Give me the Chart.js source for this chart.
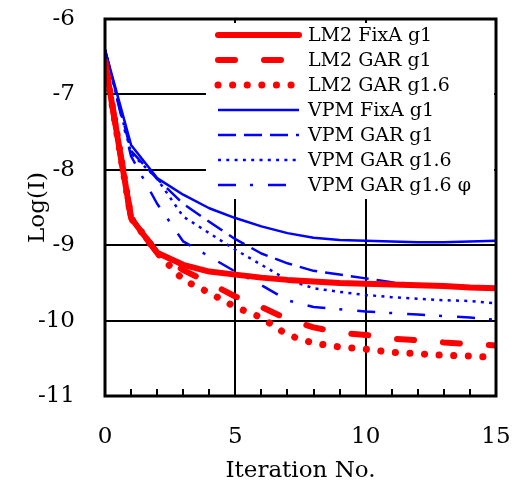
<!DOCTYPE html>
<html>
<head>
<meta charset="utf-8">
<script src="https://cdn.jsdelivr.net/npm/chart.js@4/dist/chart.umd.min.js"></script>
<style>
html,body{margin:0;padding:0;background:#fff;}
#wrap{width:525px;height:490px;}
</style>
</head>
<body>
<div id="wrap"><canvas id="c" width="525" height="490"></canvas></div>
<script>
const iterations = [0,1,2,3,4,5,6,7,8,9,10,11,12,13,14,15];
const seriesLabels = ["LM2 FixA g1","LM2 GAR g1","LM2 GAR g1.6","VPM FixA g1","VPM GAR g1","VPM GAR g1.6","VPM GAR g1.6 φ"];
const lm2FixAg1   = [-6.57,-8.64,-9.10,-9.26,-9.35,-9.39,-9.43,-9.46,-9.48,-9.50,-9.51,-9.52,-9.53,-9.54,-9.56,-9.57];
const lm2GARg1    = [-6.57,-8.64,-9.10,-9.33,-9.50,-9.68,-9.82,-9.98,-10.09,-10.16,-10.19,-10.24,-10.26,-10.29,-10.31,-10.33];
const lm2GARg16   = [-6.57,-8.64,-9.10,-9.46,-9.63,-9.82,-9.96,-10.19,-10.30,-10.35,-10.38,-10.42,-10.44,-10.46,-10.47,-10.49];
const vpmFixAg1   = [-6.41,-7.67,-8.11,-8.33,-8.51,-8.64,-8.75,-8.84,-8.90,-8.93,-8.94,-8.95,-8.96,-8.96,-8.95,-8.94];
const vpmGARg1    = [-6.41,-7.75,-8.12,-8.45,-8.69,-8.92,-9.11,-9.24,-9.34,-9.39,-9.44,-9.49,-9.52,-9.55,-9.57,-9.59];
const vpmGARg16   = [-6.41,-7.78,-8.12,-8.62,-8.84,-9.06,-9.26,-9.46,-9.57,-9.62,-9.66,-9.69,-9.71,-9.73,-9.74,-9.77];
const vpmGARg16phi= [-6.41,-7.82,-8.45,-8.95,-9.15,-9.35,-9.53,-9.73,-9.82,-9.85,-9.88,-9.90,-9.92,-9.94,-9.96,-9.99];
const xTickLabels = [0,5,10,15];
const yTickLabels = [-6,-7,-8,-9,-10,-11];

const RED = '#ff0000', BLUE = '#0000ff';
const FONT = "'DejaVu Serif', serif";

function pts(arr){ return arr.map((v,i)=>({x:iterations[i], y:v})); }

const styles = [
  {borderColor:RED, borderWidth:6, borderDash:[], borderCapStyle:'round'},
  {borderColor:RED, borderWidth:6, borderDash:[17,29], borderCapStyle:'round'},
  {borderColor:RED, borderWidth:7, borderDash:[0.1,14.5], borderCapStyle:'round'},
  {borderColor:BLUE, borderWidth:2.5, borderDash:[], borderCapStyle:'butt'},
  {borderColor:BLUE, borderWidth:2.5, borderDash:[18,8], borderCapStyle:'butt'},
  {borderColor:BLUE, borderWidth:2.5, borderDash:[3,5.3], borderCapStyle:'butt'},
  {borderColor:BLUE, borderWidth:2.5, borderDash:[18,14,3,15], borderCapStyle:'butt'}
];
const seriesData = [lm2FixAg1,lm2GARg1,lm2GARg16,vpmFixAg1,vpmGARg1,vpmGARg16,vpmGARg16phi];

const datasets = seriesData.map((d,i)=>Object.assign({
  label: seriesLabels[i],
  data: pts(d),
  fill:false, tension:0, pointRadius:0, borderJoinStyle:'round'
}, styles[i]));

function noPad(s){ s.paddingTop = 0; s.paddingBottom = 0; s.paddingLeft = 0; s.paddingRight = 0; }

const framePlugin = {
  id:'frame',
  beforeDatasetsDraw(chart){
    const {ctx, chartArea:a} = chart;
    ctx.save();
    ctx.fillStyle = '#fff';
    ctx.fillRect(206, 23, a.right - 208 , 176);
    ctx.restore();
  },
  afterDatasetsDraw(chart){
    const {ctx, chartArea:a, scales:{x}} = chart;
    ctx.save();
    ctx.strokeStyle = '#000';
    ctx.lineWidth = 2;
    ctx.setLineDash([]);
    for (let v = 1; v < 15; v++) {
      if (v % 5 === 0) continue;
      const px = Math.round(x.getPixelForValue(v));
      ctx.beginPath();
      ctx.moveTo(px, a.bottom);
      ctx.lineTo(px, a.bottom - 7);
      ctx.stroke();
    }
    ctx.lineWidth = 3;
    ctx.strokeRect(a.left, a.top, a.right - a.left, a.bottom - a.top);
    const ds = chart.data.datasets;
    ctx.font = "19px " + FONT;
    ctx.textBaseline = 'middle';
    ctx.textAlign = 'left';
    ds.forEach((d,i)=>{
      const y = 35 + i*25;
      ctx.beginPath();
      ctx.strokeStyle = d.borderColor;
      ctx.lineWidth = d.borderWidth;
      ctx.lineCap = d.borderCapStyle;
      ctx.setLineDash(d.borderDash);
      ctx.moveTo(218, y);
      ctx.lineTo(299, y);
      ctx.stroke();
      ctx.setLineDash([]);
      ctx.fillStyle = '#000';
      ctx.fillText(d.label, 308, y + 1);
    });
    ctx.restore();
  }
};

new Chart(document.getElementById('c'), {
  type:'line',
  data:{datasets},
  plugins:[framePlugin],
  options:{
    responsive:false,
    animation:false,
    layout:{autoPadding:false, padding:{top:19, right:29, bottom:0, left:0}},
    plugins:{legend:{display:false}, tooltip:{enabled:false}},
    scales:{
      x:{
        type:'linear', min:0, max:15,
        ticks:{stepSize:1, autoSkip:false, maxRotation:0, minRotation:0, padding:27,
          color:'#000', font:{family:FONT, size:23},
          callback:(v)=> xTickLabels.includes(v) ? String(v) : ''},
        grid:{drawTicks:false, lineWidth:2,
          color:(c)=> (c.tick && (c.tick.value===5 || c.tick.value===10)) ? '#000' : 'rgba(0,0,0,0)'},
        border:{display:false},
        title:{display:true, text:'Iteration No.', color:'#000', font:{family:FONT, size:23}, padding:{top:0,bottom:5}},
        afterFit(s){ s.height = 94; noPad(s); }
      },
      y:{
        min:-11, max:-6,
        ticks:{stepSize:1, padding:30, color:'#000', font:{family:FONT, size:23},
          callback:(v)=> yTickLabels.includes(v) ? String(v) : ''},
        grid:{drawTicks:false, lineWidth:2,
          color:(c)=> (c.tick && c.tick.value>-11 && c.tick.value<-6) ? '#000' : 'rgba(0,0,0,0)'},
        border:{display:false},
        title:{display:true, text:'Log(I)', color:'#000', font:{family:FONT, size:23}, padding:{top:24,bottom:0}},
        afterFit(s){ s.width = 105; noPad(s); }
      }
    }
  }
});
</script>
</body>
</html>
